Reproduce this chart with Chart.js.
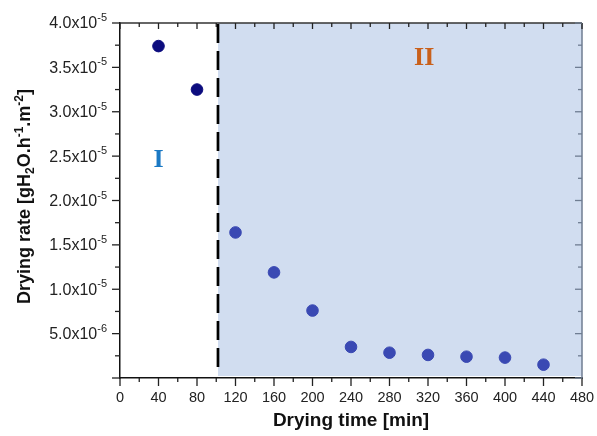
<!DOCTYPE html>
<html lang="en">
<head>
<meta charset="UTF-8">
<title>Drying rate</title>
<script src="https://cdn.jsdelivr.net/npm/chart.js"></script>
<style>
  html, body { margin: 0; padding: 0; background: #fff; }
  #wrap { width: 597px; height: 436px; }
</style>
</head>
<body>
<div id="wrap"><canvas id="myChart"></canvas></div>
<script>
// drying period I (constant rate) and period II (falling rate)
const timesI = [40, 80];
const ratesI = [3.74e-5, 3.25e-5];
const timesII = [120, 160, 200, 240, 280, 320, 360, 400, 440];
const ratesII = [1.64e-5, 1.19e-5, 0.76e-5, 0.35e-5, 0.285e-5, 0.26e-5, 0.24e-5, 0.23e-5, 0.15e-5];

const xTicks = [0, 40, 80, 120, 160, 200, 240, 280, 320, 360, 400, 440, 480];
const yTickValues = [5e-6, 1e-5, 1.5e-5, 2e-5, 2.5e-5, 3e-5, 3.5e-5, 4e-5];
const yTickMantissa = ['5.0', '1.0', '1.5', '2.0', '2.5', '3.0', '3.5', '4.0'];
const yTickExponent = ['-6', '-5', '-5', '-5', '-5', '-5', '-5', '-5'];

const phaseBoundary = 101.8;   // min, where period II starts
const phaseLabels = [
  { text: 'I', x: 40, y: 2.45e-5, color: '#1b79c4' },
  { text: 'II', x: 316, y: 3.6e-5, color: '#c9601b' }
];

const FONT = '"Liberation Sans", Arial, sans-serif';

// shaded falling-rate zone + dashed boundary
const zonePlugin = {
  id: 'zone',
  beforeDraw(chart) {
    const { ctx, chartArea, scales } = chart;
    const x0 = scales.x.getPixelForValue(phaseBoundary);
    ctx.save();
    ctx.fillStyle = '#d1ddf0';
    ctx.fillRect(x0, chartArea.top, chartArea.right - x0, chartArea.bottom - chartArea.top - 2);
    ctx.restore();
  },
  beforeDatasetsDraw(chart) {
    const { ctx, chartArea, scales } = chart;
    const x0 = scales.x.getPixelForValue(phaseBoundary);
    ctx.save();
    ctx.strokeStyle = '#000';
    ctx.lineWidth = 2.7;
    ctx.setLineDash([19, 8]);
    ctx.beginPath();
    ctx.moveTo(x0, chartArea.top + 1);
    ctx.lineTo(x0, chartArea.bottom - 3);
    ctx.stroke();
    ctx.restore();
  }
};

// frame, ticks, y labels with exponents, titles
const framePlugin = {
  id: 'frame',
  afterDraw(chart) {
    const { ctx, chartArea: a, scales } = chart;
    const xs = scales.x, ys = scales.y;
    ctx.save();

    // top and right border
    ctx.lineWidth = 1.5;
    ctx.strokeStyle = '#333';
    ctx.beginPath();
    ctx.moveTo(a.left, a.top);
    ctx.lineTo(a.right, a.top);
    ctx.stroke();
    ctx.strokeStyle = '#6f7d92';
    ctx.beginPath();
    ctx.moveTo(a.right, a.top);
    ctx.lineTo(a.right, a.bottom);
    ctx.stroke();

    // x ticks (major every 40, minor every 20)
    ctx.lineWidth = 1.3;
    for (let v = 0; v <= 480; v += 20) {
      const px = xs.getPixelForValue(v);
      const major = v % 40 === 0;
      ctx.strokeStyle = '#222';
      ctx.beginPath();
      ctx.moveTo(px, a.bottom);
      ctx.lineTo(px, a.bottom + (major ? 8 : 4));
      ctx.moveTo(px, a.top);
      ctx.lineTo(px, a.top + (major ? 6 : 4));
      ctx.stroke();
    }
    // y ticks (major every 5e-6, minor every 2.5e-6)
    for (let i = 0; i <= 16; i++) {
      const py = ys.getPixelForValue(i * 2.5e-6);
      const major = i % 2 === 0;
      ctx.strokeStyle = '#222';
      ctx.beginPath();
      ctx.moveTo(a.left, py);
      ctx.lineTo(a.left - (major ? 8 : 5), py);
      ctx.stroke();
      ctx.strokeStyle = '#6f7d92';
      ctx.beginPath();
      ctx.moveTo(a.right, py);
      ctx.lineTo(a.right - (major ? 7 : 4), py);
      ctx.stroke();
    }

    // y tick labels
    ctx.fillStyle = '#222';
    ctx.textBaseline = 'middle';
    ctx.textAlign = 'right';
    yTickValues.forEach((v, i) => {
      const py = ys.getPixelForValue(v);
      const right = a.left - 13;
      ctx.font = '11px ' + FONT;
      const ew = ctx.measureText(yTickExponent[i]).width;
      ctx.fillText(yTickExponent[i], right, py - 5);
      ctx.font = '16px ' + FONT;
      ctx.fillText(yTickMantissa[i] + 'x10', right - ew, py + 1);
    });

    // y axis title with sub/superscripts
    ctx.fillStyle = '#111';
    ctx.translate(24, (a.top + a.bottom) / 2 - 4);
    ctx.rotate(-Math.PI / 2);
    ctx.textAlign = 'left';
    ctx.textBaseline = 'alphabetic';
    const parts = [
      ['Drying rate [gH', 0, 18], ['2', 4, 12], ['O.h', 0, 18], ['-1', -7, 12],
      ['.m', 0, 18], ['-2', -7, 12], [']', 0, 18]
    ];
    let total = 0;
    parts.forEach(p => { ctx.font = 'bold ' + p[2] + 'px ' + FONT; total += ctx.measureText(p[0]).width; });
    let cx = -total / 2;
    parts.forEach(p => {
      ctx.font = 'bold ' + p[2] + 'px ' + FONT;
      ctx.fillText(p[0], cx, 6 + p[1]);
      cx += ctx.measureText(p[0]).width;
    });
    ctx.setTransform(1, 0, 0, 1, 0, 0);

    // period labels
    ctx.textAlign = 'center';
    ctx.textBaseline = 'middle';
    ctx.font = 'bold 26px "Liberation Serif", "DejaVu Serif", serif';
    phaseLabels.forEach(l => {
      ctx.fillStyle = l.color;
      ctx.fillText(l.text, xs.getPixelForValue(l.x), ys.getPixelForValue(l.y));
    });
    ctx.restore();
  }
};

const ctx = document.getElementById('myChart');
new Chart(ctx, {
  type: 'scatter',
  data: {
    datasets: [{
      label: 'Period I',
      data: timesI.map((t, i) => ({ x: t, y: ratesI[i] })),
      backgroundColor: '#0c0c7e',
      borderColor: '#0c0c7e',
      pointRadius: 5.8
    }, {
      label: 'Period II',
      data: timesII.map((t, i) => ({ x: t, y: ratesII[i] })),
      backgroundColor: '#3a49b3',
      borderColor: '#3a49b3',
      pointRadius: 5.8
    }]
  },
  options: {
    responsive: true,
    maintainAspectRatio: false,
    animation: false,
    events: [],
    layout: { padding: { top: 23, right: 15, left: 0, bottom: 0 } },
    plugins: { legend: { display: false }, tooltip: { enabled: false } },
    scales: {
      x: {
        type: 'linear',
        min: 0,
        max: 480,
        afterBuildTicks: s => { s.ticks = xTicks.map(v => ({ value: v })); },
        afterFit: s => { s.height = 58; s.paddingLeft = 0; s.paddingRight = 0; },
        border: { display: true, color: '#111', width: 1.5 },
        grid: { display: true, drawOnChartArea: false, drawTicks: false },
        ticks: {
          autoSkip: false, maxRotation: 0, padding: 11, color: '#222',
          font: { family: FONT, size: 14.5 }
        },
        title: {
          display: true, text: 'Drying time [min]', color: '#111',
          font: { family: FONT, size: 19, weight: 'bold' }, padding: { top: 4 }
        }
      },
      y: {
        type: 'linear',
        min: 0,
        max: 4e-5,
        afterBuildTicks: s => { s.ticks = yTickValues.map(v => ({ value: v })); },
        afterFit: s => { s.width = 120; },
        border: { display: true, color: '#111', width: 1.5 },
        grid: { display: true, drawOnChartArea: false, drawTicks: false },
        ticks: { callback: () => '' }
      }
    }
  },
  plugins: [zonePlugin, framePlugin]
});
</script>
</body>
</html>
